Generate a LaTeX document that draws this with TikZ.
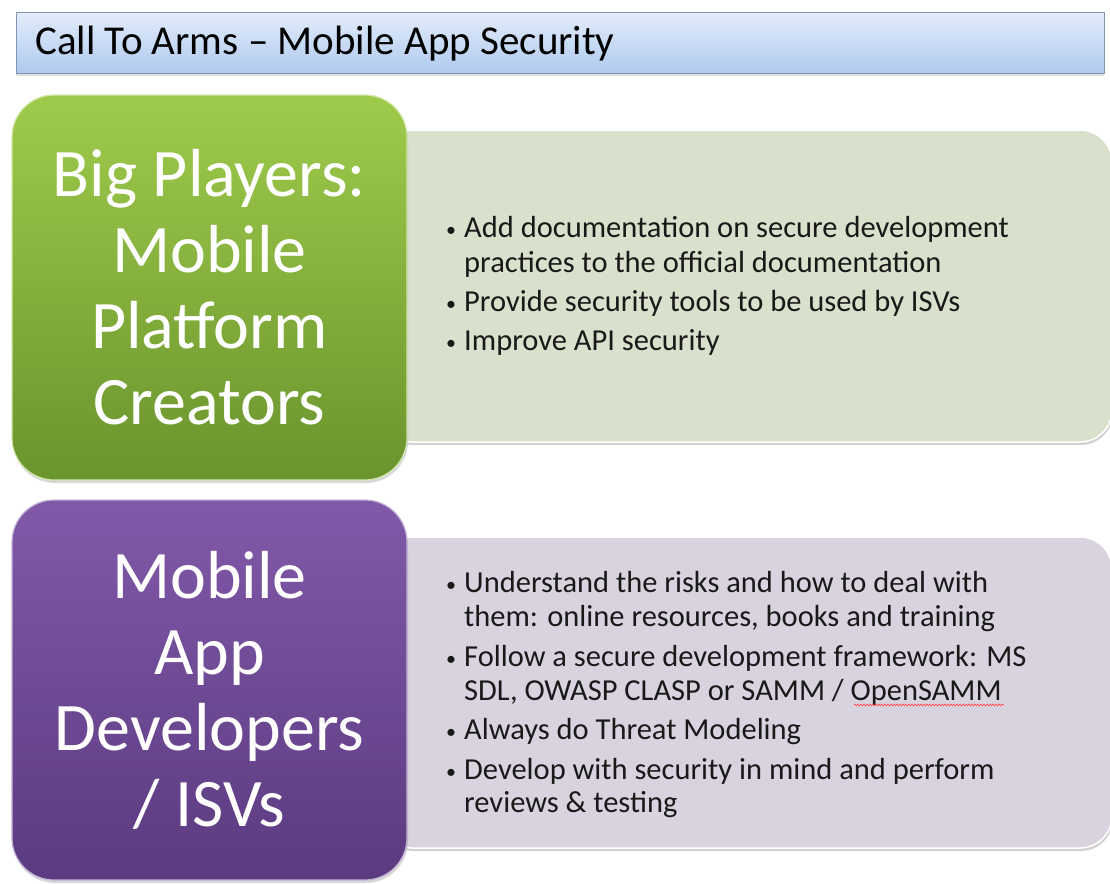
\documentclass[tikz,border=0pt]{standalone}
\usepackage{fontspec}
\setmainfont{Carlito}
\usetikzlibrary{positioning, shadows, decorations.pathmorphing}
\definecolor{titletop}{HTML}{E3ECFA}
\definecolor{titlebot}{HTML}{AECAEF}
\definecolor{titleline}{HTML}{8095B4}
\definecolor{greentop}{HTML}{9FCB4C}
\definecolor{greenbot}{HTML}{6A942D}
\definecolor{purpletop}{HTML}{8159A9}
\definecolor{purplebot}{HTML}{5B3B80}
\definecolor{sage}{HTML}{D9E0CB}
\definecolor{lilac}{HTML}{D8D3DF}

\newcommand{\bulletmark}{\makebox[18pt][l]{\raisebox{1pt}{\fontsize{20}{20}\selectfont\textbullet}}}
\newcommand{\bulletgap}{\hspace*{18pt}}

\tikzset{
  bigbox/.style={rounded corners=42pt, draw=white!55!#1, line width=1.2pt,
    text=white, align=center, font=\fontsize{68}{76}\selectfont,
    minimum width=395pt, drop shadow={shadow xshift=1pt, shadow yshift=-3pt, opacity=0.3}},
  listbox/.style={rounded corners=32pt, fill=#1, draw=white, line width=1.5pt,
    minimum width=732pt, drop shadow={shadow xshift=1pt, shadow yshift=-3pt, opacity=0.35}},
  listline/.style={anchor=base west, inner sep=0pt, text=black!90,
    font=\fontsize{30.5}{34}\selectfont},
}

\begin{document}
\begin{tikzpicture}[x=1pt, y=-1pt]
\useasboundingbox (0,0) rectangle (1110,883);
\fill[white] (0,0) rectangle (1110,883);

% heading
\node[draw=titleline, top color=titletop, bottom color=titlebot,
      minimum width=1088pt, minimum height=61pt, anchor=north west,
      drop shadow={shadow xshift=0pt, shadow yshift=-3pt, opacity=0.25}] (title) at (16,12) {};
\node[anchor=west, inner sep=0pt, font=\fontsize{41}{44}\selectfont] (titletext) at (35,44)
  {Call To Arms -- Mobile App Security};

% list panels behind the coloured boxes
\node[listbox=sage, minimum height=312pt] (platlist) at (746,286) {};
\node[listbox=lilac, minimum height=311pt] (devlist) at (746,692.5) {};

\node[bigbox=greentop, top color=greentop, bottom color=greenbot,
      minimum height=385pt] (platform) at (209.5,287.5)
  {Big Players:\\Mobile\\Platform\\Creators};
\node[bigbox=purpletop, top color=purpletop, bottom color=purplebot,
      minimum height=380pt] (devs) at (209.5,690)
  {Mobile\\App\\Developers\\/ ISVs};

% first list
\foreach \n/\yy/\txt in {
    1/237/{\bulletmark Add documentation on secure development},
    2/272/{\bulletgap practices to the official documentation},
    3/311/{\bulletmark Provide security tools to be used by ISVs},
    4/350/{\bulletmark Improve API security}}
{
    \node[listline] (p\n) at (446,\yy) {\txt};
}

% second list
\foreach \n/\yy/\txt in {
    1/592/{\bulletmark Understand the risks and how to deal with},
    2/626/{\bulletgap them: online resources, books and training},
    3/666/{\bulletmark Follow a secure development framework: MS},
    4/700/{\bulletgap SDL, OWASP CLASP or SAMM / OpenSAMM},
    5/739/{\bulletmark Always do Threat Modeling},
    6/779/{\bulletmark Develop with security in mind and perform},
    7/812/{\bulletgap reviews \& testing}}
{
    \node[listline] (d\n) at (446,\yy) {\txt};
}

% spell-check squiggle under OpenSAMM
\draw[red!75, line width=0.6pt, decorate,
      decoration={snake, amplitude=0.9pt, segment length=3pt}]
  (854,705) -- (1004,705);
\end{tikzpicture}
\end{document}
